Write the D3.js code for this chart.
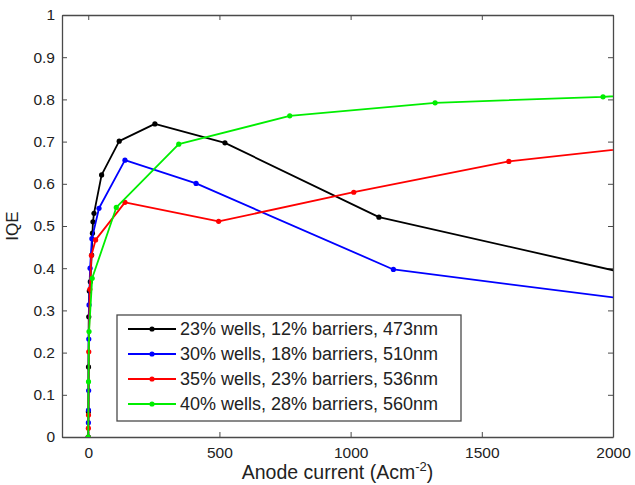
<!DOCTYPE html>
<html>
<head>
<meta charset="utf-8">
<script src="https://cdn.jsdelivr.net/npm/d3@7"></script>
<style>
  html, body { margin: 0; padding: 0; background: #fff; }
  svg { display: block; font-family: "Liberation Sans", Arial, sans-serif; }
</style>
</head>
<body>
<svg id="chart" width="635" height="485"></svg>
<script>
// series names and colours
const seriesNames = [
  "23% wells, 12% barriers, 473nm",
  "30% wells, 18% barriers, 510nm",
  "35% wells, 23% barriers, 536nm",
  "40% wells, 28% barriers, 560nm"
];
const seriesColors = ["#000000", "#0000ff", "#ff0000", "#00ee00"];

// anode current (A/cm2) and IQE
const currentBlack = [0, 0.5, 1, 2, 4, 8, 13, 16, 18, 22, 51, 118, 254, 521, 1108, 2200];
const iqeBlack     = [0, 0.06, 0.166, 0.285, 0.346, 0.368, 0.431, 0.483, 0.51, 0.53, 0.621, 0.701, 0.742, 0.697, 0.521, 0.367];

const currentBlue = [0, 0.5, 1, 1.5, 2, 3, 7, 14, 41, 140, 411, 1163, 2200];
const iqeBlue     = [0, 0.034, 0.064, 0.110, 0.232, 0.313, 0.40, 0.47, 0.542, 0.656, 0.601, 0.397, 0.315];

const currentRed = [0, 0.5, 1, 2, 6, 12, 28, 140, 497, 1012, 1603, 2200];
const iqeRed     = [0, 0.021, 0.052, 0.202, 0.35, 0.43, 0.467, 0.556, 0.511, 0.580, 0.653, 0.694];

const currentGreen = [0, 1, 3, 15, 107, 345, 768, 1322, 1962, 2200];
const iqeGreen     = [0, 0.131, 0.25, 0.376, 0.544, 0.694, 0.761, 0.792, 0.806, 0.815];

const xTicks = [0, 500, 1000, 1500, 2000];
const yTicks = [0, 0.1, 0.2, 0.3, 0.4, 0.5, 0.6, 0.7, 0.8, 0.9, 1];

const width = 635;
const height = 485;
const margin = { top: 15, right: 22, bottom: 48, left: 62 };

const series = [
  { x: currentBlack, y: iqeBlack },
  { x: currentBlue, y: iqeBlue },
  { x: currentRed, y: iqeRed },
  { x: currentGreen, y: iqeGreen }
].map((s, i) => ({
  name: seriesNames[i],
  color: seriesColors[i],
  points: s.x.map((v, j) => [v, s.y[j]])
}));

const svg = d3.select("#chart");

const xScale = d3.scaleLinear().domain([-100, 2000]).range([margin.left, width - margin.right]);
const yScale = d3.scaleLinear().domain([0, 1]).range([height - margin.bottom, margin.top]);

const axisColor = "#4a4a4a";
const tickLen = 5;

svg.append("defs").append("clipPath").attr("id", "plotClip")
  .append("rect")
  .attr("x", margin.left).attr("y", margin.top)
  .attr("width", width - margin.left - margin.right)
  .attr("height", height - margin.top - margin.bottom);

// axes: ticks point inward, mirrored on top/right like a MATLAB box
const xAxisBottom = d3.axisBottom(xScale).tickValues(xTicks).tickSizeInner(-tickLen).tickSizeOuter(0).tickPadding(10)
  .tickFormat(d => `${d}`);
const xAxisTop = d3.axisTop(xScale).tickValues(xTicks).tickSizeInner(-tickLen).tickSizeOuter(0).tickFormat("");
const yAxisLeft = d3.axisLeft(yScale).tickValues(yTicks).tickSizeInner(-tickLen).tickSizeOuter(0).tickPadding(7)
  .tickFormat(d => d === 0 || d === 1 ? `${d}` : d3.format(".1f")(d));
const yAxisRight = d3.axisRight(yScale).tickValues(yTicks).tickSizeInner(-tickLen).tickSizeOuter(0).tickFormat("");

svg.append("g").attr("transform", `translate(0, ${height - margin.bottom})`).call(xAxisBottom);
svg.append("g").attr("transform", `translate(0, ${margin.top})`).call(xAxisTop);
svg.append("g").attr("transform", `translate(${margin.left}, 0)`).call(yAxisLeft);
svg.append("g").attr("transform", `translate(${width - margin.right}, 0)`).call(yAxisRight);

svg.selectAll(".domain").attr("stroke", axisColor).attr("stroke-width", 1.3);
svg.selectAll(".tick line").attr("stroke", axisColor).attr("stroke-width", 1);
svg.selectAll(".tick text").attr("fill", "#222").style("font-size", "15.5px");

// curves
const line = d3.line().x(d => xScale(d[0])).y(d => yScale(d[1]));
const plot = svg.append("g").attr("clip-path", "url(#plotClip)");

series.forEach(s => {
  plot.append("path")
    .datum(s.points)
    .attr("fill", "none")
    .attr("stroke", s.color)
    .attr("stroke-width", 1.8)
    .attr("stroke-linejoin", "round")
    .attr("d", line);
  plot.selectAll(null)
    .data(s.points)
    .enter()
    .append("circle")
    .attr("cx", d => xScale(d[0]))
    .attr("cy", d => yScale(d[1]))
    .attr("r", 2.6)
    .attr("fill", s.color);
});

// axis labels
svg.append("text")
  .attr("x", (margin.left + width - margin.right) / 2)
  .attr("y", 479)
  .attr("text-anchor", "middle")
  .attr("fill", "#222")
  .style("font-size", "19.5px")
  .html('Anode current (Acm<tspan dy="-8" style="font-size:13px">-2</tspan><tspan dy="8">)</tspan>');

svg.append("text")
  .attr("transform", `translate(18, ${(margin.top + height - margin.bottom) / 2}) rotate(-90)`)
  .attr("text-anchor", "middle")
  .attr("fill", "#222")
  .style("font-size", "17px")
  .text("IQE");

// legend
const legend = svg.append("g").attr("transform", "translate(117, 315)");
legend.append("rect")
  .attr("width", 344).attr("height", 106)
  .attr("fill", "#fff")
  .attr("stroke", axisColor)
  .attr("stroke-width", 1.3);

const rows = legend.selectAll(".row")
  .data(series)
  .enter()
  .append("g")
  .attr("transform", (d, i) => `translate(0, ${14 + i * 25})`);

rows.append("line")
  .attr("x1", 11).attr("x2", 59)
  .attr("stroke", d => d.color)
  .attr("stroke-width", 1.8);
rows.append("circle")
  .attr("cx", 35).attr("r", 2.6)
  .attr("fill", d => d.color);
rows.append("text")
  .attr("x", 63)
  .attr("dy", "0.35em")
  .attr("fill", "#222")
  .style("font-size", "18px")
  .text(d => d.name);
</script>
</body>
</html>
